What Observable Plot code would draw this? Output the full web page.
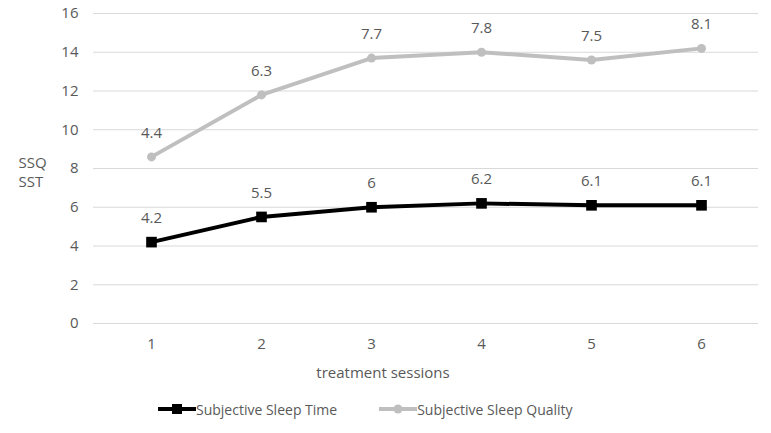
<!DOCTYPE html>
<html><head><meta charset="utf-8">
<script src="https://cdn.jsdelivr.net/npm/d3@7"></script>
<script src="https://cdn.jsdelivr.net/npm/@observablehq/plot@0.6"></script>
<style>
body{margin:0;background:#fff;font-family:"Open Sans",sans-serif;width:771px;height:433px;overflow:hidden;}
#legend{display:flex;align-items:center;height:22px;padding-left:158px;font-size:14px;color:#595959;}
#legend .item{display:flex;align-items:center;margin-right:42px;}
#legend svg{display:block;}
</style></head><body><div id="chart"></div><div id="legend"></div>
<script>
const sessions = [1, 2, 3, 4, 5, 6];
const sst = [4.2, 5.5, 6, 6.2, 6.1, 6.1];
const ssq = [4.4, 6.3, 7.7, 7.8, 7.5, 8.1];
const yTicks = [0, 2, 4, 6, 8, 10, 12, 14, 16];
const seriesNames = ["Subjective Sleep Time", "Subjective Sleep Quality"];
const colors = ["#000000", "#bfbfbf"];
const axisTitleX = "treatment sessions";
const axisTitleY = "SSQ\nSST";

// stacked line chart (Excel style): SSQ drawn on top of SST
const rows = [];
sessions.forEach((s, i) => {
  rows.push({session: s, series: seriesNames[0], value: sst[i], top: sst[i]});
  rows.push({session: s, series: seriesNames[1], value: ssq[i], top: sst[i] + ssq[i]});
});
const sstRows = rows.filter(d => d.series === seriesNames[0]);
const ssqRows = rows.filter(d => d.series === seriesNames[1]);

const chart = Plot.plot({
  width: 771,
  height: 398,
  marginLeft: 93,
  marginRight: 13,
  marginTop: 13,
  marginBottom: 75,
  x: {type: "point", domain: sessions, padding: 0.5},
  y: {domain: [0, 16]},
  style: {fontFamily: '"Open Sans", sans-serif', fontSize: "14px", color: "#595959", background: "white"},
  marks: [
    Plot.gridY(yTicks, {stroke: "#d9d9d9", strokeOpacity: 1, strokeWidth: 1}),
    Plot.axisY(yTicks, {tickSize: 0, tickPadding: 15, label: null, fontSize: 15}),
    Plot.axisX({tickSize: 0, tickPadding: 15, label: null, fontSize: 15}),
    Plot.text([axisTitleX], {frameAnchor: "bottom", dx: -43, dy: 54, fontSize: 15, fill: "#595959"}),
    Plot.text([axisTitleY], {frameAnchor: "left", textAnchor: "start", dx: -75, dy: 3, fontSize: 15, lineHeight: 1.25, fill: "#595959"}),
    Plot.line(ssqRows, {x: "session", y: "top", stroke: colors[1], strokeWidth: 4}),
    Plot.dot(ssqRows, {x: "session", y: "top", r: 4.5, fill: colors[1]}),
    Plot.line(sstRows, {x: "session", y: "top", stroke: colors[0], strokeWidth: 4}),
    Plot.dot(sstRows, {x: "session", y: "top", symbol: "square", r: 6, fill: colors[0]}),
    Plot.text(rows, {x: "session", y: "top", text: d => String(d.value), dy: -24, fontSize: 15, fill: "#595959"})
  ]
});
document.getElementById("chart").appendChild(chart);

const legend = d3.select("#legend");
seriesNames.forEach((name, i) => {
  const item = legend.append("div").attr("class", "item");
  const svg = item.append("svg").attr("width", 38).attr("height", 14);
  svg.append("line").attr("x1", 0).attr("x2", 38).attr("y1", 7).attr("y2", 7)
    .attr("stroke", colors[i]).attr("stroke-width", 4);
  if (i === 0) svg.append("rect").attr("x", 14).attr("y", 2).attr("width", 10).attr("height", 10).attr("fill", colors[i]);
  else svg.append("circle").attr("cx", 19).attr("cy", 7).attr("r", 4.5).attr("fill", colors[i]);
  item.append("span").text(name);
});
</script>
</body></html>
